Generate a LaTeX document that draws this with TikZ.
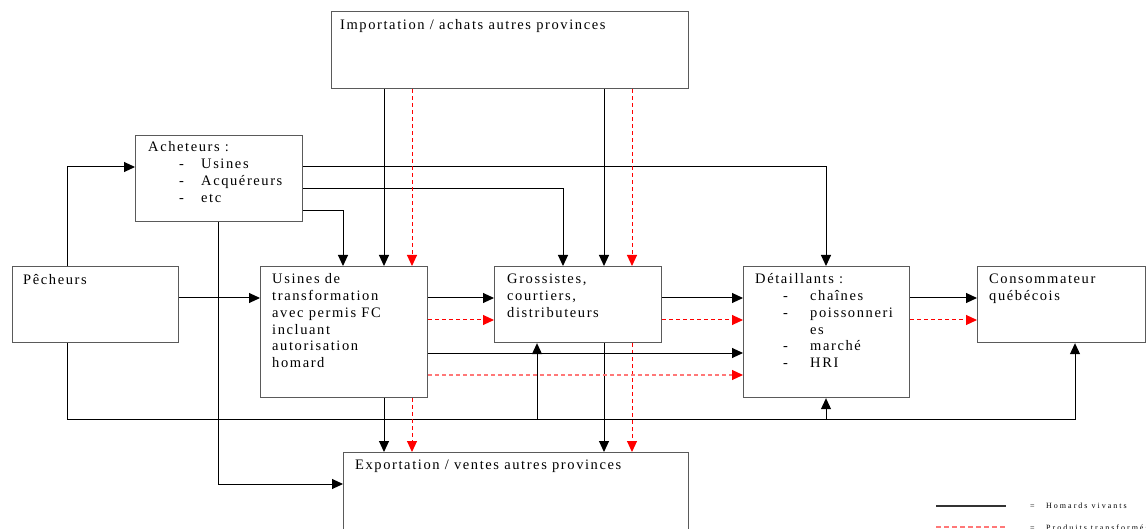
\documentclass[tikz,border=0pt]{standalone}
\usepackage{fontspec}
\setmainfont[LetterSpace=11]{Liberation Serif}
\newfontfamily\legendfont[LetterSpace=25]{Liberation Serif}
\usetikzlibrary{arrows.meta}
\definecolor{boxgray}{RGB}{90,90,90}
\definecolor{pinkline}{RGB}{255,120,120}
\tikzset{
  box/.style={draw=boxgray, line width=1.2pt, inner sep=0pt, anchor=north west},
  txt/.style={inner sep=0pt, anchor=base west, font=\fontsize{14.5}{16.7}\selectfont},
  legtxt/.style={inner sep=0pt, anchor=base west, font=\legendfont\fontsize{8}{9}\selectfont},
  tip/.style={-{Triangle[length=11pt,width=10pt]}},
  flow/.style={tip, line width=1pt, draw=black},
  rflow/.style={-{Triangle[length=11pt,width=10pt,color=red]}, line width=1pt, draw=red, dash pattern=on 4pt off 3pt},
  pflow/.style={-{Triangle[length=11pt,width=10pt,color=red]}, line width=1.1pt, draw=pinkline, dash pattern=on 4pt off 3pt},
}
\begin{document}
\begin{tikzpicture}[x=1pt,y=-1pt]
\useasboundingbox (0,0) rectangle (1146,529);
\clip (0,0) rectangle (1146,529);

% boxes
\node[box, minimum width=357pt, minimum height=77pt] (imp) at (331,11) {};
\node[box, minimum width=167pt, minimum height=86pt] (ach) at (135,135) {};
\node[box, minimum width=166pt, minimum height=76pt] (pech) at (12,266) {};
\node[box, minimum width=167pt, minimum height=131pt] (usi) at (260,266) {};
\node[box, minimum width=167pt, minimum height=76pt] (gros) at (494,266) {};
\node[box, minimum width=166pt, minimum height=131pt] (det) at (743,266) {};
\node[box, minimum width=168pt, minimum height=76pt] (cons) at (977,266) {};
\node[box, minimum width=345pt, minimum height=77pt] (exp) at (343,452) {};

% texts
\node[txt] (impt) at (340,30) {Importation / achats autres provinces};
\node[txt] (expt) at (355,469) {Exportation / ventes autres provinces};
\node[txt] (acht) at (148,152) {\begin{tabular}[t]{@{}l@{}}Acheteurs :\\
\hspace*{31pt}\makebox[22pt][l]{-}Usines\\
\hspace*{31pt}\makebox[22pt][l]{-}Acquéreurs\\
\hspace*{31pt}\makebox[22pt][l]{-}etc\end{tabular}};
\node[txt] (pecht) at (23,285) {Pêcheurs};
\node[txt] (usit) at (272,284) {\begin{tabular}[t]{@{}l@{}}Usines de\\transformation\\avec permis FC\\incluant\\autorisation\\homard\end{tabular}};
\node[txt] (grost) at (507,284) {\begin{tabular}[t]{@{}l@{}}Grossistes,\\courtiers,\\distributeurs\end{tabular}};
\node[txt] (dett) at (755,284) {\begin{tabular}[t]{@{}l@{}}Détaillants :\\
\hspace*{28pt}\makebox[27pt][l]{-}chaînes\\
\hspace*{28pt}\makebox[27pt][l]{-}poissonneri\\
\hspace*{55pt}es\\
\hspace*{28pt}\makebox[27pt][l]{-}marché\\
\hspace*{28pt}\makebox[27pt][l]{-}HRI\end{tabular}};
\node[txt] (const) at (989,284) {\begin{tabular}[t]{@{}l@{}}Consommateur\\québécois\end{tabular}};

% helper coordinates
\coordinate (bot) at (0,419);
\coordinate (pechtop) at ([xshift=55pt]pech.north west);
\coordinate (pechbot) at ([xshift=55pt]pech.south west);
\coordinate (consin) at ([xshift=98pt]cons.south west);
\coordinate (grosin) at ([xshift=43pt]gros.south west);
\coordinate (detin) at ([xshift=83pt]det.south west);
\coordinate (a1) at ([xshift=124pt]usi.north west);
\coordinate (a2) at ([xshift=152pt]usi.north west);
\coordinate (b1) at ([xshift=110pt]gros.north west);
\coordinate (b2) at ([xshift=138pt]gros.north west);
\coordinate (r1) at ([yshift=-32pt]usi.north east);
\coordinate (r2) at ([yshift=-54pt]usi.north east);
\coordinate (r3) at ([yshift=-87pt]usi.north east);
\coordinate (r4) at ([yshift=-109pt]usi.north east);

% Pêcheurs
\draw[flow] (pechtop) |- ([yshift=-32pt]ach.north west);
\draw[flow] ([yshift=-32pt]pech.north east) -- ([yshift=-32pt]usi.north west);
\draw[flow] (pechbot) |- (consin |- bot) -- (consin);
\draw[flow] (grosin |- bot) -- (grosin);
\draw[flow] (detin |- bot) -- (detin);

% Acheteurs
\draw[flow] ([xshift=83pt]ach.south west) |- ([yshift=-32pt]exp.north west);
\draw[flow] ([yshift=-32pt]ach.north east) -| ([xshift=83pt]det.north west);
\draw[flow] ([yshift=-54pt]ach.north east) -| ([xshift=69pt]gros.north west);
\draw[flow] ([yshift=-76pt]ach.north east) -| ([xshift=83pt]usi.north west);

% Importation
\draw[flow] (imp.south -| a1) -- (a1);
\draw[rflow] (imp.south -| a2) -- (a2);
\draw[flow] (imp.south -| b1) -- (b1);
\draw[rflow] (imp.south -| b2) -- (b2);

% to Exportation
\draw[flow] (usi.south -| a1) -- (exp.north -| a1);
\draw[rflow] (usi.south -| a2) -- (exp.north -| a2);
\draw[flow] (gros.south -| b1) -- (exp.north -| b1);
\draw[rflow] (gros.south -| b2) -- (exp.north -| b2);

% horizontal flows
\draw[flow] (r1) -- (gros.west |- r1);
\draw[rflow] (r2) -- (gros.west |- r2);
\draw[flow] (r3) -- (det.west |- r3);
\draw[pflow] (r4) -- (det.west |- r4);
\draw[flow] (gros.east |- r1) -- (det.west |- r1);
\draw[rflow] (gros.east |- r2) -- (det.west |- r2);
\draw[flow] (det.east |- r1) -- (cons.west |- r1);
\draw[rflow] (det.east |- r2) -- (cons.west |- r2);

% legend
\coordinate (l1a) at (936,506);
\coordinate (l1b) at (1006,506);
\coordinate (l2a) at (936,527);
\coordinate (l2b) at (1006,527);
\draw[line width=1.1pt, draw=black!80] (l1a) -- (l1b);
\draw[line width=1.4pt, draw=pinkline, dash pattern=on 5pt off 3pt] (l2a) -- (l2b);
\node[legtxt] (leq1) at (1030,508) {=};
\node[legtxt] (leg1) at (1046,508) {Homards vivants};
\node[legtxt] (leq2) at (1030,530) {=};
\node[legtxt] (leg2) at (1046,530) {Produits transformés};
\end{tikzpicture}
\end{document}
